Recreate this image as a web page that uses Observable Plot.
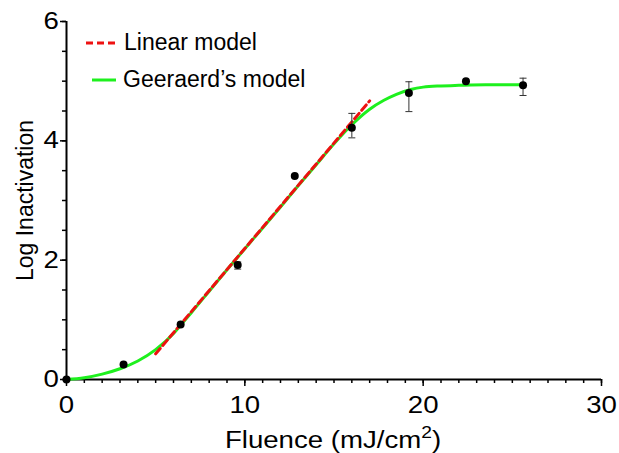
<!DOCTYPE html>
<html>
<head>
<meta charset="utf-8">
<script src="https://cdn.jsdelivr.net/npm/d3@7"></script>
<script src="https://cdn.jsdelivr.net/npm/@observablehq/plot@0.6"></script>
<style>
  html, body { margin: 0; padding: 0; background: white; }
  #wrap { position: relative; width: 619px; height: 453px; font-family: "Liberation Sans", Arial, sans-serif; color: black; }
  .abs { position: absolute; white-space: nowrap; }
</style>
</head>
<body>
<div id="wrap"></div>
<script>
// Measured data points
const fluence = [0, 3.2, 6.4, 9.6, 12.8, 16, 19.2, 22.4, 25.6];
const logInact = [0, 0.25, 0.92, 1.92, 3.41, 4.22, 4.80, 5.00, 4.93];

// Error bars
const errX = [9.6, 16, 19.2, 25.6];
const errLow = [1.85, 4.05, 4.49, 4.76];
const errHigh = [1.97, 4.46, 4.99, 5.05];

// Linear model (dashed red)
const linX = [5, 17];
const linY = [0.43, 4.67];

// Geeraerd's model (green curve)
const geerX = [0, 1, 2, 3, 4, 5, 6, 6.4, 7, 8, 9, 10, 11, 12, 13, 14, 15, 16, 17, 17.8, 18.5, 19.3, 20, 21, 22, 23.5, 25.7];
const geerY = [0, 0.03, 0.09, 0.18, 0.31, 0.5, 0.77, 0.91, 1.12, 1.48, 1.84, 2.19, 2.54, 2.89, 3.25, 3.60, 3.95, 4.27, 4.53, 4.68, 4.78, 4.86, 4.90, 4.92, 4.93, 4.94, 4.94];

// Tick labels
const xMajor = [0, 10, 20, 30];
const yMajor = [0, 2, 4, 6];

const points = fluence.map((x, i) => ({x, y: logInact[i]}));
const errs = errX.map((x, i) => ({x, lo: errLow[i], hi: errHigh[i]}));
const lin = linX.map((x, i) => ({x, y: linY[i]}));
const geer = geerX.map((x, i) => ({x, y: geerY[i]}));

const cap = {draw(ctx) { ctx.moveTo(-3.5, 0); ctx.lineTo(3.5, 0); }};

const GREEN = "#1ef01e";
const RED = "#ee1111";
const FONT = "Liberation Sans, Arial, sans-serif";

const chart = Plot.plot({
  width: 619,
  height: 453,
  marginLeft: 66,
  marginRight: 18,
  marginTop: 21,
  marginBottom: 74,
  x: {domain: [0, 30]},
  y: {domain: [0, 6]},
  style: {fontFamily: FONT, fontSize: "23px", color: "black", background: "white"},
  marks: [
    Plot.axisX({ticks: d3.range(0, 31, 1), tickSize: 4, text: null, label: null, strokeWidth: 1.5}),
    Plot.axisX({ticks: xMajor, tickSize: 7, tickPadding: 10, tickFormat: d => String(d), label: null, strokeWidth: 1.5, fontSize: 23}),
    Plot.axisY({ticks: d3.range(0, 6.01, 0.5), tickSize: 4, text: null, label: null, strokeWidth: 1.5}),
    Plot.axisY({ticks: yMajor, tickSize: 6, tickPadding: 3, tickFormat: d => String(d), label: null, strokeWidth: 1.5, fontSize: 23}),
    Plot.ruleX([0], {stroke: "black", strokeWidth: 2}),
    Plot.ruleY([0], {stroke: "black", strokeWidth: 2}),
    Plot.line(geer, {x: "x", y: "y", curve: "monotone-x", stroke: GREEN, strokeWidth: 3}),
    Plot.line(lin, {x: "x", y: "y", stroke: RED, strokeWidth: 3, strokeDasharray: "7,4"}),
    Plot.ruleX(errs, {x: "x", y1: "lo", y2: "hi", stroke: "#333", strokeWidth: 1}),
    Plot.dot(errs, {x: "x", y: "lo", symbol: cap, r: 4, stroke: "#333", strokeWidth: 1, fill: "none"}),
    Plot.dot(errs, {x: "x", y: "hi", symbol: cap, r: 4, stroke: "#333", strokeWidth: 1, fill: "none"}),
    Plot.dot(points, {x: "x", y: "y", r: 4, fill: "black", stroke: "none"}),
    Plot.text(["Log Inactivation"], {frameAnchor: "left", dx: -41, rotate: -90, fontSize: 23, textAnchor: "middle", lineAnchor: "middle"})
  ]
});

const wrap = document.getElementById("wrap");
wrap.appendChild(chart);

// Widen the tick-label glyphs horizontally about their own centre, as in the reference
chart.querySelectorAll("text").forEach(t => {
  if (!/^\d+$/.test(t.textContent.trim())) return;
  const b = t.getBBox();
  const cx = b.x + b.width / 2;
  const tr = t.getAttribute("transform") || "";
  t.setAttribute("transform", `${tr} translate(${cx},0) scale(1.2,1) translate(${-cx},0)`);
});

// Legend overlay
function swatch(left, top, w, color, dash) {
  const ns = "http://www.w3.org/2000/svg";
  const s = document.createElementNS(ns, "svg");
  s.setAttribute("width", w); s.setAttribute("height", 6);
  s.setAttribute("class", "abs");
  s.style.left = left + "px"; s.style.top = top + "px";
  const l = document.createElementNS(ns, "line");
  l.setAttribute("x1", 0); l.setAttribute("x2", w); l.setAttribute("y1", 3); l.setAttribute("y2", 3);
  l.setAttribute("stroke", color); l.setAttribute("stroke-width", 3);
  if (dash) l.setAttribute("stroke-dasharray", dash);
  s.appendChild(l);
  wrap.appendChild(s);
}
function label(html, left, top, size, extra) {
  const d = document.createElement("div");
  d.className = "abs";
  d.innerHTML = html;
  d.style.left = left + "px"; d.style.top = top + "px";
  d.style.fontSize = size + "px"; d.style.lineHeight = "24px";
  if (extra) Object.assign(d.style, extra);
  wrap.appendChild(d);
}
swatch(86, 40, 32, RED, "7,4");
label("Linear model", 124, 30, 23);
swatch(92, 77, 24, GREEN, null);
label("Geeraerd’s model", 123, 67, 23);
label("Fluence (mJ/cm<sup style=\"font-size:16px;line-height:0;vertical-align:10px\">2</sup>)", 333, 428, 23, {transform: "translateX(-50%) scaleX(1.2)"});
</script>
</body>
</html>
